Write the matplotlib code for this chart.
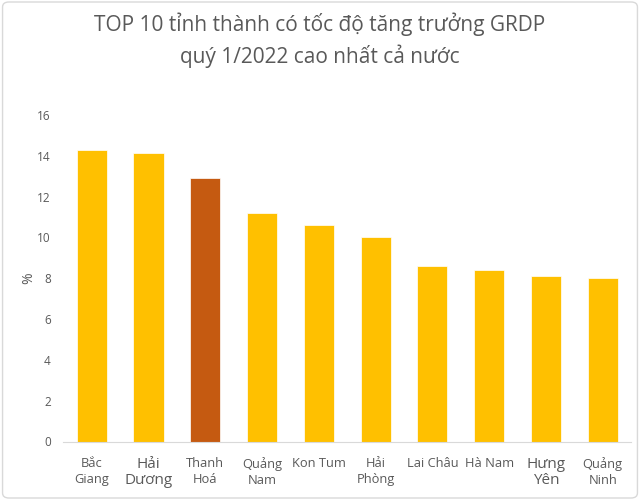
import matplotlib
matplotlib.use("Agg")
import matplotlib.pyplot as plt
from matplotlib.patches import FancyBboxPatch

plt.rcParams['font.family'] = ['Open Sans', 'DejaVu Sans']

provinces = ["Bắc\nGiang", "Hải\nDương", "Thanh\nHoá", "Quảng\nNam", "Kon Tum",
             "Hải\nPhòng", "Lai Châu", "Hà Nam", "Hưng\nYên", "Quảng\nNinh"]
growth = [14.3, 14.15, 12.9, 11.2, 10.6, 10.0, 8.6, 8.4, 8.1, 8.0]
highlight = "Thanh\nHoá"

gold = "#FFC000"
brown = "#C55A11"
grey = "#595959"

colors = [brown if p == highlight else gold for p in provinces]

fig = plt.figure(figsize=(6.4, 5.0), dpi=100)
ax = fig.add_axes([0.099, 0.117, 0.887, 0.653])

x = range(len(provinces))
ax.bar(x, growth, width=0.53, color=colors, edgecolor="white", linewidth=0.5)

ax.set_xlim(-0.5, len(provinces) - 0.5)
ax.set_ylim(0, 16)
ax.set_yticks(range(0, 17, 2))
ax.tick_params(axis='y', length=0, labelsize=8.5, colors=grey, pad=9)
ax.set_xticks(list(x))
ax.set_xticklabels(provinces, fontsize=9.3, color=grey, linespacing=1.35)
ax.tick_params(axis='x', length=0, pad=11)
for lbl in ax.get_xticklabels():
    if lbl.get_text() in ("Hải\nDương", "Hưng\nYên"):
        lbl.set_fontsize(11)
        lbl.set_linespacing(1.1)

for s in ["top", "right", "left"]:
    ax.spines[s].set_visible(False)
ax.spines["bottom"].set_color("#D9D9D9")

ax.set_ylabel("%", fontsize=10, color=grey, labelpad=1)

fig.text(0.5, 0.952, "TOP 10 tỉnh thành có tốc độ tăng trưởng GRDP",
         ha="center", va="center", fontsize=15, color=grey)
fig.text(0.5, 0.887, "quý 1/2022 cao nhất cả nước",
         ha="center", va="center", fontsize=15, color=grey)

border = FancyBboxPatch((0.004, 0.004), 0.992, 0.992, boxstyle="round,pad=0,rounding_size=0.01",
                        transform=fig.transFigure, fill=False, edgecolor="#D9D9D9", linewidth=1)
fig.patches.append(border)

fig.savefig("out.png", dpi=100, facecolor="white")
